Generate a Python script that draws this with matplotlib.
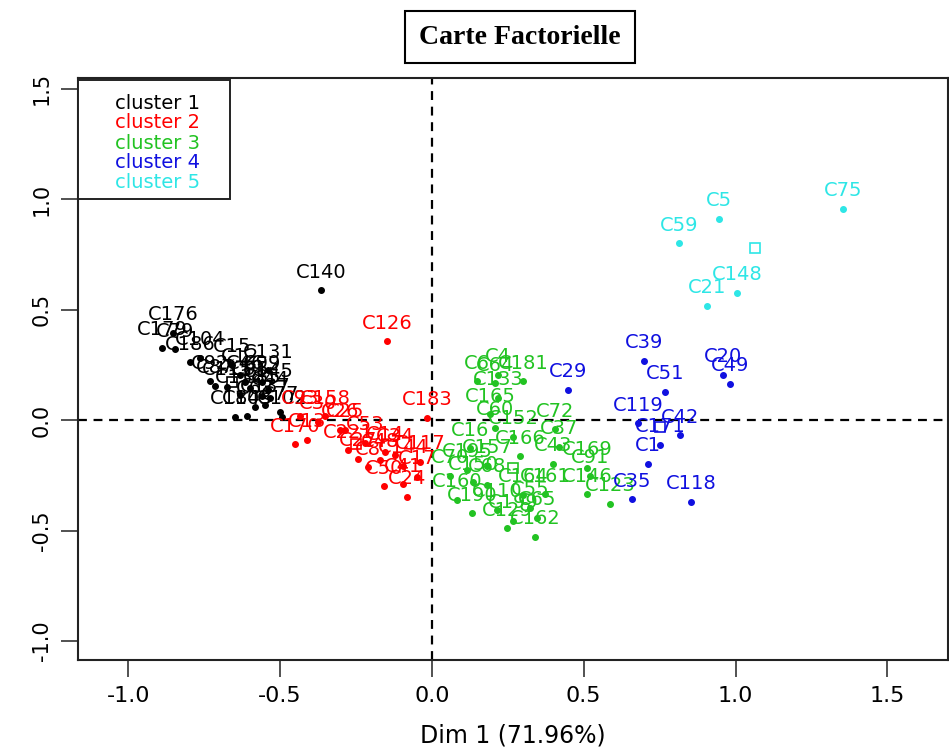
import matplotlib
matplotlib.use("Agg")
import matplotlib.pyplot as plt
from matplotlib.patches import Rectangle

# ---------------- data ----------------
c1_labels = ["C176", "C179", "C79", "C186", "C104", "C131", "C12", "C92", "C87", "C115",
             "C95", "C85", "C184", "C103", "C63", "C137", "C44", "C77", "C102", "C138",
             "C15", "C46", "C99", "C145", "C140"]
c1_x = [-0.853, -0.889, -0.846, -0.797, -0.764, -0.540, -0.632, -0.731, -0.715, -0.675,
        -0.599, -0.560, -0.649, -0.609, -0.583, -0.550, -0.534, -0.501, -0.494, -0.632,
        -0.659, -0.616, -0.560, -0.540, -0.366]
c1_y = [0.394, 0.326, 0.321, 0.262, 0.281, 0.226, 0.204, 0.176, 0.154, 0.149,
        0.145, 0.109, 0.014, 0.018, 0.059, 0.068, 0.100, 0.036, 0.014, 0.113,
        0.249, 0.172, 0.172, 0.136, 0.588]

c2_labels = ["C126", "C183", "C158", "C93", "C30", "C26", "C170", "C13", "C53", "C221",
             "C25", "C27", "C8", "C34", "C117", "C144", "C14", "C50", "C41", "C17",
             "C24", "C48"]
c2_x = [-0.148, -0.016, -0.352, -0.435, -0.375, -0.303, -0.451, -0.412, -0.221, -0.277,
        -0.287, -0.244, -0.211, -0.122, -0.040, -0.096, -0.155, -0.158, -0.096, -0.049,
        -0.082, -0.171]
c2_y = [0.357, 0.009, 0.018, 0.018, -0.009, -0.045, -0.109, -0.090, -0.104, -0.136,
        -0.045, -0.176, -0.213, -0.158, -0.190, -0.208, -0.145, -0.299, -0.290, -0.258,
        -0.348, -0.181]

c3_labels = ["C4", "C6", "C64", "C181", "C133", "C165", "C60", "C152", "C72", "C16",
             "C166", "C43", "C169", "C91", "C195", "C157", "C70", "C68", "C164", "C161",
             "C146", "C123", "C160", "C190", "C110", "C55", "C65", "C199", "C129", "C162",
             "C150", "C37"]
c3_x = [0.217, 0.148, 0.207, 0.300, 0.217, 0.191, 0.207, 0.267, 0.405, 0.125,
        0.290, 0.399, 0.510, 0.520, 0.115, 0.181, 0.059, 0.181, 0.300, 0.372,
        0.510, 0.586, 0.082, 0.132, 0.214, 0.323, 0.346, 0.267, 0.247, 0.339,
        0.135, 0.420]
c3_y = [0.204, 0.176, 0.167, 0.176, 0.100, 0.027, -0.036, -0.077, -0.041, -0.127,
        -0.163, -0.199, -0.217, -0.253, -0.226, -0.208, -0.253, -0.294, -0.339, -0.335,
        -0.335, -0.380, -0.362, -0.421, -0.407, -0.398, -0.443, -0.457, -0.489, -0.529,
        -0.281, -0.120]

c4_labels = ["C39", "C20", "C49", "C51", "C119", "C171", "C42", "C1", "C35", "C118", "C29"]
c4_x = [0.698, 0.958, 0.982, 0.767, 0.678, 0.751, 0.817, 0.711, 0.659, 0.853, 0.448]
c4_y = [0.267, 0.204, 0.163, 0.127, -0.014, -0.113, -0.068, -0.199, -0.358, -0.371, 0.136]

c5_labels = ["C75", "C5", "C59", "C148", "C21"]
c5_x = [1.354, 0.945, 0.814, 1.005, 0.906]
c5_y = [0.955, 0.910, 0.800, 0.575, 0.516]

centre_x = [-0.66, -0.25, 0.267, 0.751, 1.064]
centre_y = [0.17, -0.11, -0.217, -0.032, 0.778]

cluster_names = ["cluster 1", "cluster 2", "cluster 3", "cluster 4", "cluster 5"]
cluster_colors = ["black", "#FF0000", "#22C322", "#1010E0", "#2EE6E6"]

x_ticks = [-1.0, -0.5, 0.0, 0.5, 1.0, 1.5]
y_ticks = [-1.0, -0.5, 0.0, 0.5, 1.0, 1.5]

# ---------------- plot ----------------
fig = plt.figure(figsize=(9.49, 7.51), dpi=100)
ax = fig.add_axes([78 / 949, 1 - 660 / 751, (948 - 78) / 949, (660 - 78) / 751])

ax.axhline(0, color="black", ls=(0, (4, 3)), lw=1.6, zorder=1)
ax.axvline(0, color="black", ls=(0, (4, 3)), lw=1.6, zorder=1)

groups = [(c1_labels, c1_x, c1_y), (c2_labels, c2_x, c2_y), (c3_labels, c3_x, c3_y),
          (c4_labels, c4_x, c4_y), (c5_labels, c5_x, c5_y)]

for (labs, xs, ys), col in zip(groups, cluster_colors):
    ax.plot(xs, ys, "o", ms=4, color=col, mec=col, zorder=3)
    for lab, xv, yv in zip(labs, xs, ys):
        ax.annotate(lab, (xv, yv), xytext=(0, 13), textcoords="offset points",
                    ha="center", va="center", fontsize=14, color=col,
                    family="DejaVu Sans", zorder=4)

for cx, cy, col in zip(centre_x, centre_y, cluster_colors):
    ax.plot([cx], [cy], "s", ms=7, mfc="none", mec=col, mew=1.2, zorder=3)

ax.set_xlim(-1.166, 1.70)
ax.set_ylim(-1.086, 1.548)
ax.set_xticks(x_ticks)
ax.set_yticks(y_ticks)
ax.set_xticklabels([f"{v:.1f}" for v in x_ticks], fontsize=16, family="DejaVu Sans")
ax.set_yticklabels([f"{v:.1f}" for v in y_ticks], fontsize=15, family="DejaVu Sans",
                   rotation=90, va="center")
ax.tick_params(axis="both", length=12, width=1.2, color="#333333", pad=7)
for s in ax.spines.values():
    s.set_linewidth(1.5)
    s.set_color("#222222")

ax.set_xlabel("Dim 1 (71.96%)", fontsize=17, family="DejaVu Sans", labelpad=12)

# legend box drawn in axes coordinates, coloured text entries
leg_left, leg_bottom = 0.0, (660 - 199) / 582
leg_w, leg_h = (230 - 78) / 870, (199 - 80) / 582
ax.add_patch(Rectangle((leg_left, leg_bottom), leg_w, leg_h, transform=ax.transAxes,
                       fc="white", ec="#222222", lw=1.4, zorder=5))
row_y = [0.957, 0.923, 0.888, 0.855, 0.820]
for name, col, ry in zip(cluster_names, cluster_colors, row_y):
    ax.text(0.0425, ry, name, transform=ax.transAxes, ha="left", va="center",
            fontsize=14, color=col, family="DejaVu Sans", zorder=6)

fig.text(520 / 949, 1 - 37 / 751, "Carte Factorielle", ha="center", va="center",
         fontsize=20, fontweight="bold", family="Liberation Serif",
         bbox=dict(boxstyle="square,pad=0.5", fc="white", ec="black", lw=1.5))

fig.savefig("out.png", dpi=100)
